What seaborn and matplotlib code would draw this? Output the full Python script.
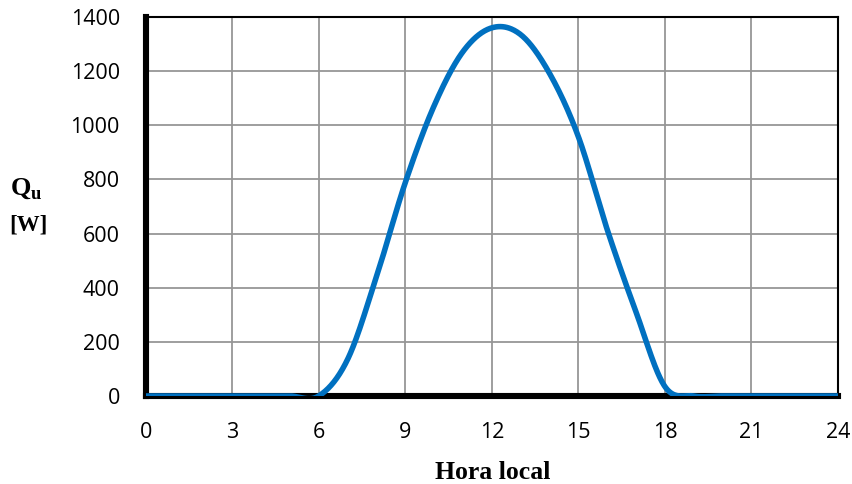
import numpy as np
import pandas as pd
import seaborn as sns
import matplotlib
matplotlib.use("Agg")
import matplotlib.pyplot as plt

# Hourly useful heat gain over one day
hours = list(range(0, 25))
q_u = [0, 0, 0, 0, 0, 0, 0, 135, 440, 788, 1072, 1272, 1360, 1335,
       1192, 958, 615, 310, 35, 0, 0, 0, 0, 0, 0]
x_ticks = [0, 3, 6, 9, 12, 15, 18, 21, 24]
y_ticks = [0, 200, 400, 600, 800, 1000, 1200, 1400]


def smooth_curve(x, y, n=40):
    """Cubic Bezier smoothing through every point (Catmull-Rom style)."""
    x = np.asarray(x, float)
    y = np.asarray(y, float)
    px = np.concatenate([[x[0]], x, [x[-1]]])
    py = np.concatenate([[y[0]], y, [y[-1]]])
    xs, ys = [], []
    t = np.linspace(0, 1, n, endpoint=False)
    for i in range(1, len(px) - 2):
        p0x, p0y = px[i], py[i]
        p3x, p3y = px[i + 1], py[i + 1]
        c1x = p0x + (px[i + 1] - px[i - 1]) / 6
        c1y = p0y + (py[i + 1] - py[i - 1]) / 6
        c2x = p3x - (px[i + 2] - px[i]) / 6
        c2y = p3y - (py[i + 2] - py[i]) / 6
        b0 = (1 - t) ** 3
        b1 = 3 * (1 - t) ** 2 * t
        b2 = 3 * (1 - t) * t ** 2
        b3 = t ** 3
        xs.append(b0 * p0x + b1 * c1x + b2 * c2x + b3 * p3x)
        ys.append(b0 * p0y + b1 * c1y + b2 * c2y + b3 * p3y)
    xs.append([x[-1]])
    ys.append([y[-1]])
    return np.concatenate(xs), np.concatenate(ys)


sx, sy = smooth_curve(hours, q_u)
df = pd.DataFrame({"hora": sx, "qu": sy})

sns.set_style("white")
plt.rcParams["font.family"] = ["Open Sans", "DejaVu Sans"]
plt.rcParams["mathtext.fontset"] = "custom"
plt.rcParams["mathtext.bf"] = "Liberation Serif:bold"
plt.rcParams["mathtext.rm"] = "Liberation Serif:bold"

fig = plt.figure(figsize=(8.53, 4.84), dpi=100)
ax = fig.add_axes([0.1707, 0.1818, 0.9824 - 0.1707, 0.9649 - 0.1818])

sns.lineplot(data=df, x="hora", y="qu", ax=ax, color="#0070C0",
             linewidth=4.0, sort=False, estimator=None, zorder=5)

ax.set_xlim(0, 24)
ax.set_ylim(0, 1400)
ax.set_xticks(x_ticks)
ax.set_yticks(y_ticks)
ax.set_xticklabels([str(v) for v in x_ticks])
ax.set_yticklabels([str(v) for v in y_ticks])

ax.grid(True, color="#969696", linewidth=1.3)
ax.set_axisbelow(True)

for side in ("left", "bottom"):
    ax.spines[side].set_linewidth(4.4)
    ax.spines[side].set_color("black")
    ax.spines[side].set_zorder(4)
for side in ("top", "right"):
    ax.spines[side].set_linewidth(1.5)
    ax.spines[side].set_color("black")

ax.tick_params(axis="both", direction="out", length=5.5, width=4.6,
               color="black", labelsize=15.5, labelcolor="black", pad=13)

ax.set_xlabel("")
ax.set_ylabel("")
fig.text(0.578, 0.0103, "Hora local", ha="center", va="baseline",
         family="Liberation Serif", fontweight="bold", fontsize=18.5,
         color="black")
fig.text(0.031, 0.611, r"$\mathbf{Q}_{\mathbf{u}}$", ha="center", va="center",
         fontsize=19, color="black")
fig.text(0.033, 0.535, "[W]", ha="center", va="center",
         family="Liberation Serif", fontweight="bold", fontsize=16.5,
         color="black")

fig.savefig("out.png", dpi=100)
